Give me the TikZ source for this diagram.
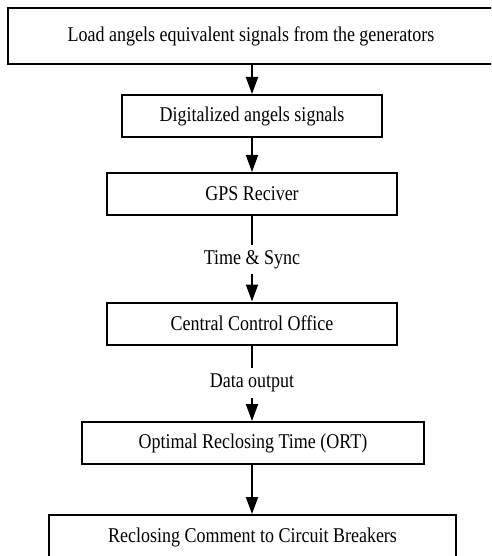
\documentclass[tikz,border=0pt]{standalone}
\usepackage{fontspec}
\setmainfont[FakeStretch=0.857]{Liberation Serif}
\usetikzlibrary{arrows.meta}
\begin{document}
\begin{tikzpicture}[x=1pt,y=-1pt,
  box/.style={draw,line width=2pt,rectangle,inner sep=0pt,font=\fontsize{21}{23}\selectfont},
  lbl/.style={inner sep=0pt,font=\fontsize{21}{23}\selectfont,minimum height=29pt},
  arr/.style={line width=2pt,-{Triangle[length=17pt,width=12pt]}},
  ln/.style={line width=2pt}]
\useasboundingbox (0,0) rectangle (491,556);
\clip (0,0) rectangle (491,556);
\node[box,minimum width=490pt,minimum height=56pt] (b1) at (253,36) {\hspace*{-2pt}Load angels equivalent signals from the generators\hspace*{2pt}};
\node[box,minimum width=260pt,minimum height=42pt] (b2) at (252,116) {Digitalized angels signals};
\node[box,minimum width=290pt,minimum height=42pt] (b3) at (252,194) {GPS Reciver};
\node[lbl] (l1) at (252,259.5) {Time \& Sync};
\node[box,minimum width=290pt,minimum height=42pt] (b4) at (252,323.5) {Central Control Office};
\node[lbl] (l2) at (252,383) {Data output};
\node[box,minimum width=342pt,minimum height=42pt] (b5) at (253,443) {Optimal Reclosing Time (ORT)};
\node[box,minimum width=407pt,minimum height=44pt] (b6) at (252.5,537) {Reclosing Comment to Circuit Breakers};
\draw[arr] (b1.south -| b2.north) -- (b2.north);
\draw[arr] (b2) -- (b3);
\draw[ln] (b3) -- (l1);
\draw[arr] (l1) -- (b4);
\draw[ln] (b4) -- (l2.north);
\draw[arr] (l2.south) -- (b5.north -| l2.south);
\draw[arr] (b5.south -| l2.south) -- (b6.north -| l2.south);
\end{tikzpicture}
\end{document}
